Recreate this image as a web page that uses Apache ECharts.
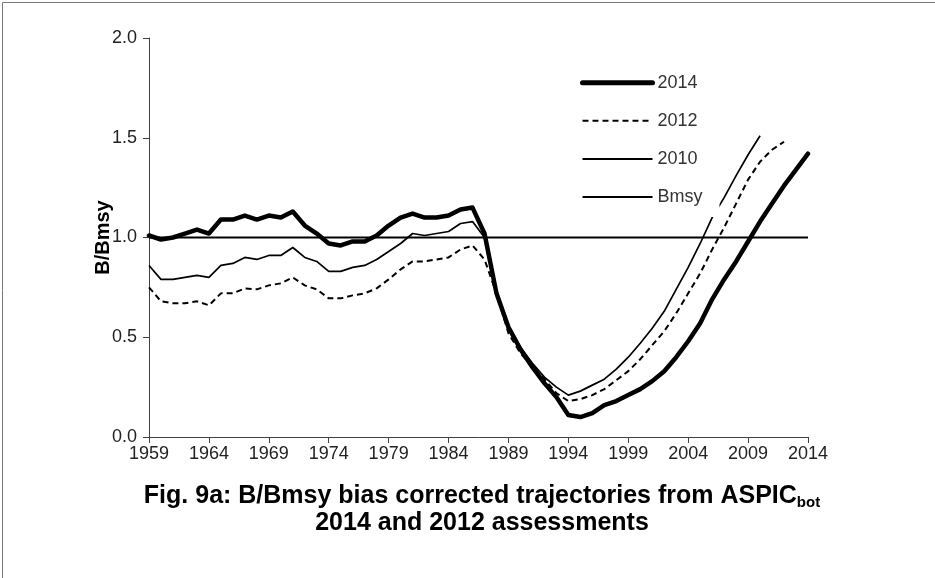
<!DOCTYPE html>
<html>
<head>
<meta charset="utf-8">
<script src="https://cdn.jsdelivr.net/npm/echarts@6/dist/echarts.min.js"></script>
<style>html,body{margin:0;padding:0;background:#fff;}#c{width:935px;height:578px;}</style>
</head>
<body>
<div id="c"></div>
<script>
const years = [];
for (let y = 1959; y <= 2014; y++) years.push(y);
const xTicks = [1959, 1964, 1969, 1974, 1979, 1984, 1989, 1994, 1999, 2004, 2009, 2014];
const yTicks = [0.0, 0.5, 1.0, 1.5, 2.0];

const s2014 = [1.01,0.99,1.00,1.02,1.04,1.02,1.09,1.09,1.11,1.09,
               1.11,1.10,1.13,1.06,1.02,0.97,0.96,0.98,0.98,1.01,
               1.06,1.10,1.12,1.10,1.10,1.11,1.14,1.15,1.02,0.72,
               0.55,0.44,0.35,0.27,0.20,0.11,0.10,0.12,0.16,0.18,
               0.21,0.24,0.28,0.33,0.40,0.48,0.57,0.69,0.79,0.88,
               0.98,1.08,1.17,1.26,1.34,1.42];
const s2012 = [0.75,0.68,0.67,0.67,0.68,0.66,0.72,0.72,0.745,0.74,
               0.76,0.77,0.80,0.76,0.74,0.695,0.695,0.71,0.72,0.745,
               0.79,0.84,0.88,0.88,0.89,0.90,0.94,0.96,0.89,0.72,
               0.52,0.42,0.35,0.29,0.22,0.18,0.19,0.21,0.24,0.285,
               0.33,0.39,0.46,0.53,0.62,0.72,0.82,0.94,1.05,1.17,
               1.29,1.38,1.44,1.48];
const s2010 = [0.86,0.79,0.79,0.80,0.81,0.80,0.86,0.87,0.90,0.89,
               0.91,0.91,0.95,0.90,0.88,0.83,0.83,0.85,0.86,0.89,
               0.93,0.97,1.02,1.01,1.02,1.03,1.07,1.08,1.00,0.71,
               0.56,0.45,0.37,0.30,0.25,0.21,0.23,0.26,0.29,0.34,
               0.40,0.47,0.545,0.63,0.74,0.85,0.97,1.10,1.20,1.31,
               1.415,1.51];
const bmsy = years.map(() => 1.0);

const pair = arr => arr.map((v, i) => [years[i], v]);
const FONT = 'Liberation Sans, Arial, sans-serif';
const noSym = { opacity: 0, borderWidth: 0 };

const chart = echarts.init(document.getElementById('c'));
chart.setOption({
  animation: false,
  backgroundColor: '#fff',
  textStyle: { fontFamily: FONT },
  grid: { left: 149, right: 127, top: 38, bottom: 141, containLabel: false },
  title: {
    left: 477, textAlign: 'center', top: 478,
    text: '{a|Fig. 9a: B/Bmsy bias corrected trajectories from ASPIC}{s|bot}\n{a|2014 and 2012 assessments}',
    textStyle: {
      rich: {
        a: { fontFamily: FONT, fontSize: 25, fontWeight: 'bold', color: '#000', lineHeight: 27 },
        s: { fontFamily: FONT, fontSize: 15, fontWeight: 'bold', color: '#000', lineHeight: 27, padding: [12, 0, 0, 0] }
      }
    }
  },
  legend: {
    orient: 'vertical',
    left: 570, top: 62.7,
    padding: [11, 17, 11, 10],
    backgroundColor: '#fff',
    itemWidth: 70, itemHeight: 14, itemGap: 20.1,
    textStyle: { fontFamily: FONT, fontSize: 18, color: '#333', padding: [0, 0, 0, 0] },
    data: [
      { name: '2014', itemStyle: noSym, lineStyle: { width: 5, color: '#000' } },
      { name: '2012', itemStyle: noSym, lineStyle: { width: 2, color: '#000', type: [6, 4] } },
      { name: '2010', itemStyle: noSym, lineStyle: { width: 2, color: '#000' } },
      { name: 'Bmsy', itemStyle: noSym, lineStyle: { width: 2, color: '#000' } }
    ]
  },
  xAxis: {
    type: 'value', min: 1959, max: 2014, interval: 5,
    axisLine: { show: true, lineStyle: { color: '#404040', width: 1 } },
    axisTick: { show: true, length: 6, inside: false, lineStyle: { color: '#404040' } },
    axisLabel: { fontFamily: FONT, fontSize: 18, color: '#222', margin: 8,
      customValues: xTicks, formatter: v => String(v) },
    splitLine: { show: false }
  },
  yAxis: {
    type: 'value', min: 0, max: 2, interval: 0.5,
    name: 'B/Bmsy', nameLocation: 'middle', nameGap: 36, nameRotate: 90, nameMoveOverlap: false,
    nameTextStyle: { fontFamily: FONT, fontSize: 20, fontWeight: 'bold', color: '#000' },
    axisLine: { show: true, lineStyle: { color: '#404040', width: 1 } },
    axisTick: { show: true, length: 6, lineStyle: { color: '#404040' } },
    axisLabel: { fontFamily: FONT, fontSize: 18, color: '#222', margin: 12,
      formatter: v => v.toFixed(1) },
    splitLine: { show: false }
  },
  series: [
    { name: '2014', type: 'line', data: pair(s2014), showSymbol: false, symbol: 'none', z: 5,
      lineStyle: { color: '#000', width: 4.5, cap: 'round', join: 'round' }, itemStyle: { color: '#000' } },
    { name: '2012', type: 'line', data: pair(s2012), showSymbol: false, symbol: 'none', z: 4,
      lineStyle: { color: '#000', width: 2, type: [6, 4] }, itemStyle: { color: '#000' } },
    { name: '2010', type: 'line', data: pair(s2010), showSymbol: false, symbol: 'none', z: 3,
      lineStyle: { color: '#000', width: 1.7 }, itemStyle: { color: '#000' } },
    { name: 'Bmsy', type: 'line', data: pair(bmsy), showSymbol: false, symbol: 'none', z: 2,
      lineStyle: { color: '#000', width: 2 }, itemStyle: { color: '#000' } }
  ],
  graphic: [
    { type: 'rect', left: 0, top: 0, shape: { x: 0.5, y: 0.5, width: 933, height: 576 },
      style: { fill: 'none', stroke: '#777', lineWidth: 1 }, silent: true }
  ]
});
</script>
</body>
</html>
